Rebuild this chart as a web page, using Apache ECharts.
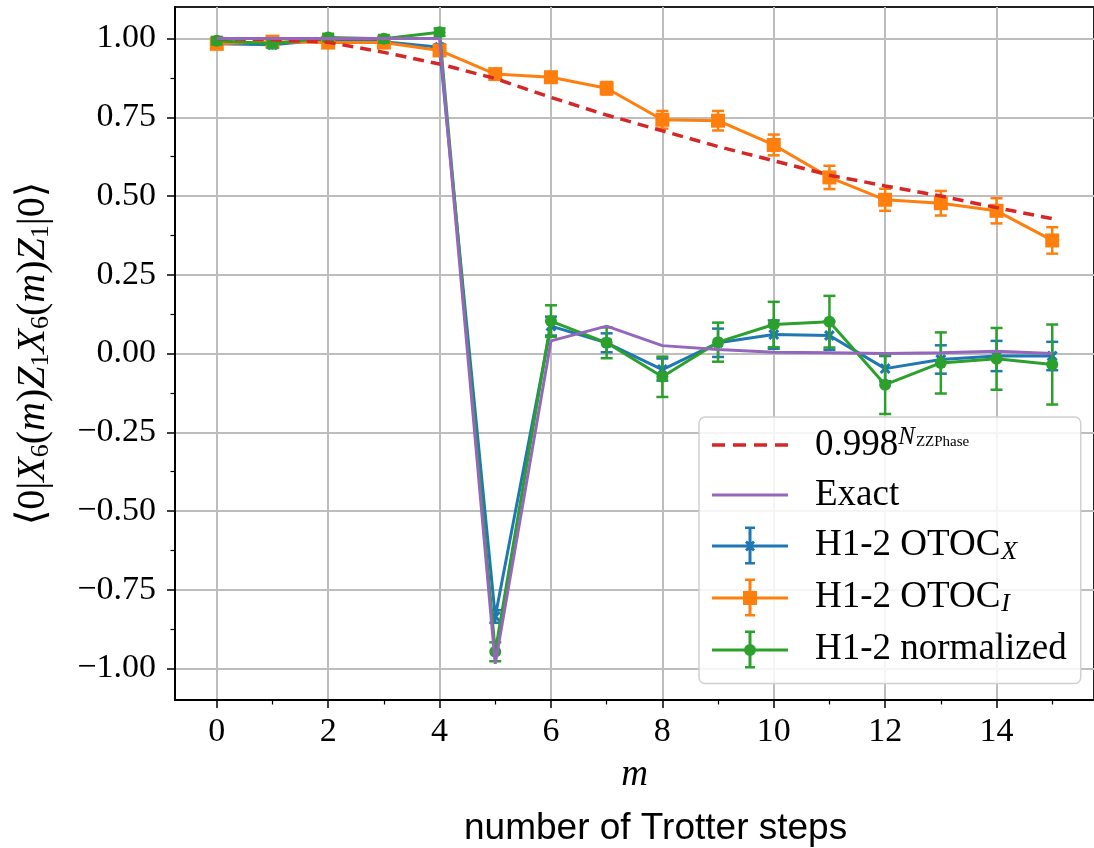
<!DOCTYPE html>
<html>
<head>
<meta charset="utf-8">
<script src="https://cdn.jsdelivr.net/npm/echarts@6/dist/echarts.min.js"></script>
<style>
    html, body { margin: 0; padding: 0; background: #fff; }
    #chart { width: 1094px; height: 848px; }
</style>
</head>
<body>
<div id="chart"></div>
<script>
// Trotter steps m
const steps = [0, 1, 2, 3, 4, 5, 6, 7, 8, 9, 10, 11, 12, 13, 14, 15]
// 0.998^N_ZZPhase
const decay = [1.0, 0.996, 0.988, 0.956, 0.919, 0.873, 0.813, 0.757, 0.707, 0.657, 0.612, 0.566, 0.532, 0.500, 0.463, 0.428]
// exact OTOC
const exact = [1.0, 1.0, 1.0, 1.0, 1.0, -0.985, 0.040, 0.087, 0.025, 0.013, 0.004, 0.002, 0.0, 0.002, 0.007, 0.0]
// H1-2 OTOC_X
const otocX = [0.983, 0.980, 0.997, 0.990, 0.972, -0.835, 0.087, 0.034, -0.051, 0.034, 0.060, 0.057, -0.048, -0.019, -0.008, -0.008]
const otocXErr = [0.01, 0.01, 0.01, 0.01, 0.01, 0.02, 0.03, 0.03, 0.035, 0.045, 0.045, 0.045, 0.04, 0.045, 0.048, 0.045]
// H1-2 OTOC_I
const otocI = [0.983, 0.990, 0.987, 0.987, 0.962, 0.887, 0.877, 0.842, 0.742, 0.739, 0.662, 0.559, 0.488, 0.477, 0.453, 0.359]
const otocIErr = [0.01, 0.01, 0.01, 0.01, 0.012, 0.015, 0.017, 0.02, 0.028, 0.031, 0.033, 0.037, 0.035, 0.039, 0.04, 0.042]
// H1-2 normalized
const normed = [0.993, 0.983, 1.003, 0.999, 1.02, -0.947, 0.103, 0.034, -0.074, 0.036, 0.092, 0.101, -0.099, -0.030, -0.017, -0.035]
const normedErr = [0.012, 0.012, 0.012, 0.012, 0.012, 0.03, 0.05, 0.049, 0.064, 0.062, 0.072, 0.082, 0.093, 0.097, 0.098, 0.127]

// ticks
const xMajor = [0, 2, 4, 6, 8, 10, 12, 14]
const xMinor = [1, 3, 5, 7, 9, 11, 13, 15]
const yMajor = [-1, -0.75, -0.5, -0.25, 0, 0.25, 0.5, 0.75, 1]
const yMinor = [-0.875, -0.625, -0.375, -0.125, 0.125, 0.375, 0.625, 0.875]

const C = {
    blue: '#1f77b4',
    orange: '#ff7f0e',
    green: '#2ca02c',
    red: '#d62728',
    purple: '#9467bd'
}
const serif = 'Liberation Serif, DejaVu Serif, serif'

// legend icons (76 x 38 box for errorbars, flat strips for plain lines)
const barPart = 'M0 18h76v3H0z M36.5 1h3v36h-3z M33 0h10v2.5H33z M33 35.5h10v2.5H33z '
const iconX = 'path://' + barPart + 'M33 16L35 14L38 17L41 14L43 16L40 19.5L43 23L41 25L38 22L35 25L33 23L36 19.5Z'
const iconI = 'path://' + barPart + 'M31 12.5h14v14H31z'
const iconN = 'path://' + barPart + 'M32 19.5a6 6 0 1 1 12 0a6 6 0 1 1 -12 0z'
const iconDash = 'path://M0 0h13v3.5H0z M21 0h13v3.5H21z M42 0h13v3.5H42z M63 0h13v3.5H63z'
const iconLine = 'path://M0 0h76v3H0z'

function pts(vals) {
    return steps.map((m, i) => [m, vals[i]])
}
function errPts(vals, errs) {
    return steps.map((m, i) => [m, vals[i], errs[i]])
}
function errorBars(color) {
    return function (params, api) {
        const x = api.value(0)
        const y = api.value(1)
        const e = api.value(2)
        const hi = api.coord([x, y + e])
        const lo = api.coord([x, y - e])
        const hw = 6
        const st = { stroke: color, lineWidth: 2.5 }
        return {
            type: 'group',
            children: [
                { type: 'line', shape: { x1: hi[0], y1: hi[1], x2: lo[0], y2: lo[1] }, style: st },
                { type: 'line', shape: { x1: hi[0] - hw, y1: hi[1], x2: hi[0] + hw, y2: hi[1] }, style: st },
                { type: 'line', shape: { x1: lo[0] - hw, y1: lo[1], x2: lo[0] + hw, y2: lo[1] }, style: st }
            ]
        }
    }
}

const chart = echarts.init(document.getElementById('chart'), null, { renderer: 'canvas' })

const tickLabel = {
    fontFamily: serif,
    fontSize: 34,
    color: '#000'
}

chart.setOption({
    animation: false,
    backgroundColor: '#fff',
    title: {
        text: 'number of Trotter steps',
        left: 464,
        top: 810,
        padding: 0,
        textStyle: {
            fontFamily: 'Liberation Sans, Arial, sans-serif',
            fontSize: 37,
            fontWeight: 'normal',
            color: '#000'
        }
    },
    grid: {
        left: 175,
        top: 7,
        width: 928,
        height: 693,
        show: true,
        borderColor: '#222',
        borderWidth: 2
    },
    legend: {
        orient: 'vertical',
        left: 699,
        top: 417,
        padding: [8, 14, 15, 13],
        itemWidth: 76,
        itemHeight: 38,
        itemGap: 13,
        symbolKeepAspect: true,
        backgroundColor: 'rgba(255,255,255,0.85)',
        borderColor: '#d0d0d0',
        borderWidth: 1.5,
        borderRadius: 6,
        z: 20,
        selectedMode: false,
        data: [
            { name: 'decay', icon: iconDash, itemStyle: { color: C.red } },
            { name: 'Exact', icon: iconLine, itemStyle: { color: C.purple } },
            { name: 'otocX', icon: iconX, itemStyle: { color: C.blue } },
            { name: 'otocI', icon: iconI, itemStyle: { color: C.orange } },
            { name: 'normed', icon: iconN, itemStyle: { color: C.green } }
        ],
        formatter: function (name) {
            if (name === 'decay') return '{g| }{t|0.998}{sup|N}{ss|ZZPhase}'
            if (name === 'Exact') return '{g| }{t|Exact}'
            if (name === 'otocX') return '{g| }{t|H1-2 OTOC}{sub|X}'
            if (name === 'otocI') return '{g| }{t|H1-2 OTOC}{sub|I}'
            return '{g| }{t|H1-2 normalized}'
        },
        textStyle: {
            fontFamily: serif,
            fontSize: 37,
            color: '#000',
            rich: {
                g: { width: 22, fontSize: 37, lineHeight: 40 },
                t: { fontFamily: serif, fontSize: 37, lineHeight: 40, color: '#000' },
                sup: { fontFamily: serif, fontStyle: 'italic', fontSize: 25, lineHeight: 24, verticalAlign: 'top', color: '#000' },
                ss: { fontFamily: serif, fontSize: 15, lineHeight: 15, verticalAlign: 'top', padding: [10, 0, 0, 1], color: '#000' },
                sub: { fontFamily: serif, fontStyle: 'italic', fontSize: 26, lineHeight: 25, verticalAlign: 'bottom', padding: [0, 0, 0, 1], color: '#000' }
            }
        }
    },
    xAxis: [{
        type: 'value',
        min: -0.75,
        max: 15.75,
        position: 'bottom',
        name: 'm',
        nameLocation: 'middle',
        nameGap: 57,
        nameTextStyle: { fontFamily: serif, fontStyle: 'italic', fontSize: 37, color: '#000' },
        axisLine: { show: true, onZero: false, lineStyle: { color: '#000', width: 2 } },
        axisTick: { show: true, customValues: xMajor, length: 8, lineStyle: { color: '#000', width: 1.5 } },
        axisLabel: Object.assign({ customValues: xMajor, margin: 15 }, tickLabel),
        splitLine: { show: true, lineStyle: { color: '#bdbdbd', width: 2 } }
    }, {
        type: 'value',
        min: -0.75,
        max: 15.75,
        position: 'bottom',
        offset: 0,
        axisLine: { show: false, onZero: false },
        axisTick: { show: true, customValues: xMinor, length: 4.5, lineStyle: { color: '#000', width: 1.2 } },
        axisLabel: { show: false },
        splitLine: { show: false }
    }],
    yAxis: [{
        type: 'value',
        min: -1.1,
        max: 1.1,
        position: 'left',
        name: '{a|⟨0|}{i|X}{s|6}{a|(}{i|m}{a|)}{i|Z}{s|1}{i|X}{s|6}{a|(}{i|m}{a|)}{i|Z}{s|1}{a||0⟩}',
        nameLocation: 'middle',
        nameRotate: 90,
        nameGap: 121,
        nameTextStyle: {
            color: '#000',
            rich: {
                a: { fontFamily: serif, fontSize: 40, lineHeight: 42, color: '#000' },
                i: { fontFamily: serif, fontStyle: 'italic', fontSize: 40, lineHeight: 42, color: '#000' },
                s: { fontFamily: serif, fontSize: 26, lineHeight: 26, verticalAlign: 'bottom', color: '#000' }
            }
        },
        axisLine: { show: true, onZero: false, lineStyle: { color: '#000', width: 2 } },
        axisTick: { show: true, customValues: yMajor, length: 8, lineStyle: { color: '#000', width: 1.5 } },
        axisLabel: Object.assign({
            customValues: yMajor,
            margin: 19,
            formatter: function (v) {
                const s = Math.abs(v).toFixed(2)
                return v < 0 ? '\u2212' + s : s
            }
        }, tickLabel),
        splitLine: { show: true, lineStyle: { color: '#bdbdbd', width: 2 } }
    }, {
        type: 'value',
        min: -1.1,
        max: 1.1,
        position: 'left',
        offset: 0,
        axisLine: { show: false, onZero: false },
        axisTick: { show: true, customValues: yMinor, length: 4.5, lineStyle: { color: '#000', width: 1.2 } },
        axisLabel: { show: false },
        splitLine: { show: false }
    }],
    series: [
        // error bars
        {
            type: 'custom', name: 'otocXBars', z: 3, silent: true,
            renderItem: errorBars(C.blue),
            encode: { x: 0, y: 1 },
            data: errPts(otocX, otocXErr)
        },
        {
            name: 'otocX', type: 'line', z: 3, silent: true,
            data: pts(otocX),
            symbol: 'path://M0 2L2 0L5 3L8 0L10 2L7 5L10 8L8 10L5 7L2 10L0 8L3 5Z',
            symbolSize: 11,
            showAllSymbol: true,
            itemStyle: { color: C.blue },
            lineStyle: { color: C.blue, width: 3 }
        },
        {
            type: 'custom', name: 'otocIBars', z: 4, silent: true,
            renderItem: errorBars(C.orange),
            encode: { x: 0, y: 1 },
            data: errPts(otocI, otocIErr)
        },
        {
            name: 'otocI', type: 'line', z: 4, silent: true,
            data: pts(otocI),
            symbol: 'rect',
            symbolSize: 14,
            showAllSymbol: true,
            itemStyle: { color: C.orange },
            lineStyle: { color: C.orange, width: 3 }
        },
        {
            type: 'custom', name: 'normedBars', z: 5, silent: true,
            renderItem: errorBars(C.green),
            encode: { x: 0, y: 1 },
            data: errPts(normed, normedErr)
        },
        {
            name: 'normed', type: 'line', z: 5, silent: true,
            data: pts(normed),
            symbol: 'circle',
            symbolSize: 12,
            showAllSymbol: true,
            itemStyle: { color: C.green },
            lineStyle: { color: C.green, width: 3 }
        },
        {
            name: 'decay', type: 'line', z: 6, silent: true,
            data: pts(decay),
            symbol: 'none',
            itemStyle: { color: C.red },
            lineStyle: { color: C.red, width: 3.5, type: [11, 7] }
        },
        {
            name: 'Exact', type: 'line', z: 7, silent: true,
            data: pts(exact),
            symbol: 'none',
            itemStyle: { color: C.purple },
            lineStyle: { color: C.purple, width: 3 }
        }
    ]
})
</script>
</body>
</html>
